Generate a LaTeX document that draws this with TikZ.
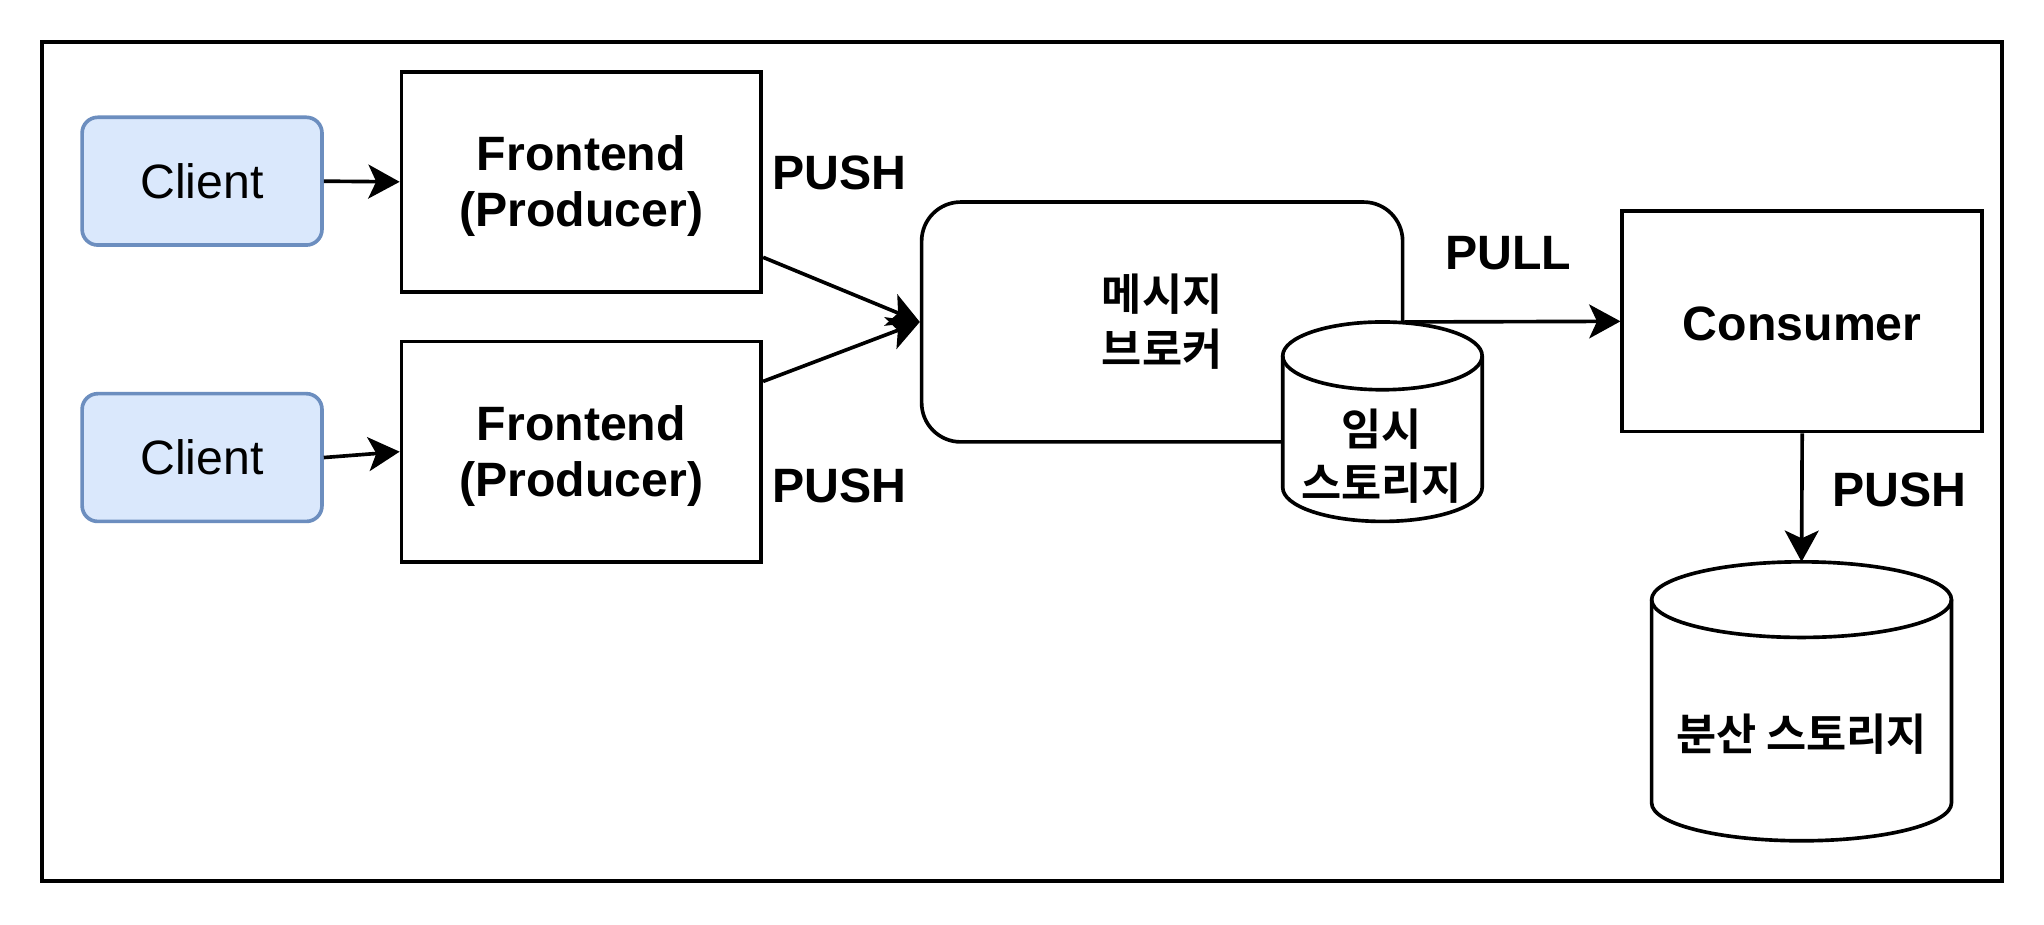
\documentclass[tikz,border=0pt]{standalone}
\usepackage{fontspec}
\setmainfont{Liberation Sans}
\newfontfamily\kr{Noto Sans CJK KR}[BoldFont={Noto Sans CJK KR Bold}]
\usetikzlibrary{arrows.meta,calc}
\definecolor{clientfill}{HTML}{DAE8FC}
\definecolor{clientline}{HTML}{6C8EBF}
\begin{document}
\begin{tikzpicture}[x=1pt,y=1pt,
  box/.style={draw, line width=2.8pt, minimum width=276pt, minimum height=169pt},
  boxtext/.style={align=center, font=\fontsize{37}{43}\selectfont\bfseries},
  clientbox/.style={draw=clientline, fill=clientfill, line width=2.8pt, rounded corners=12pt, minimum width=184pt, minimum height=98pt, font=\fontsize{37}{43}\selectfont},
  lbl/.style={font=\fontsize{37}{43}\selectfont\bfseries},
  krtext/.style={align=center, font=\kr\fontsize{33.5}{42}\selectfont\bfseries},
  conn/.style={line width=2.8pt, -{Stealth[length=24pt,width=26pt,inset=6pt]}},
  cyl/.style={draw, fill=white, line width=2.8pt}]
\useasboundingbox (0,0) rectangle (1568,709);
\fill[white] (0,0) rectangle (1568,709);
\draw[line width=3pt] (32,33) rectangle (1536,677);

% clients
\node[clientbox] (c1) at (155,570) {\raisebox{-2pt}{Client}};
\node[clientbox] (c2) at (155,358) {\raisebox{-2pt}{Client}};

% frontends
\node[box] (fe1) at (446,569.5) {};
\node[boxtext] (fe1t) at (446,566.5) {Frontend\\(Producer)};
\node[box] (fe2) at (446,362.5) {};
\node[boxtext] (fe2t) at (446,359.5) {Frontend\\(Producer)};

% broker
\node[draw, line width=2.8pt, rounded corners=30pt, minimum width=369pt, minimum height=184pt, krtext] (broker) at (891.5,462) {메시지\\브로커};

% temp storage cylinder
\path[cyl] (984,436) -- (984,335) arc[start angle=180,end angle=360,x radius=76.5,y radius=26]
  -- (1137,436) arc[start angle=0,end angle=180,x radius=76.5,y radius=26] -- cycle;
\draw[line width=2.8pt] (984,436) arc[start angle=180,end angle=360,x radius=76.5,y radius=26];
\node[krtext] (tmp) at (1060,359) {임시\\스토리지};

% consumer
\node[box] (cons) at (1382.5,462.5) {};
\node[boxtext] (const) at (1382.5,460.5) {Consumer};

% distributed storage cylinder
\path[cyl] (1267,249) -- (1267,93) arc[start angle=180,end angle=360,x radius=115,y radius=29]
  -- (1497,249) arc[start angle=0,end angle=180,x radius=115,y radius=29] -- cycle;
\draw[line width=2.8pt] (1267,249) arc[start angle=180,end angle=360,x radius=115,y radius=29];
\coordinate (dtop) at (1382,278);
\node[krtext] (dist) at (1382,146) {분산 스토리지};

% labels
\node[lbl] (push1) at (644,576) {PUSH};
\node[lbl] (push2) at (644,336) {PUSH};
\node[lbl] (pull) at (1157,515) {PULL};
\node[lbl] (push3) at (1457,333) {PUSH};

% connectors
\draw[conn] (c1.east) -- (fe1.west);
\draw[conn] (c2.east) -- (fe2.west);
\draw[conn] ($(fe1.south east)+(0,28)$) -- (broker.west);
\draw[conn] ($(fe2.north east)+(0,-32)$) -- (broker.west);
\draw[conn] (broker.east) -- (cons.west);
\draw[conn] (cons.south) -- (dtop);
\end{tikzpicture}
\end{document}
